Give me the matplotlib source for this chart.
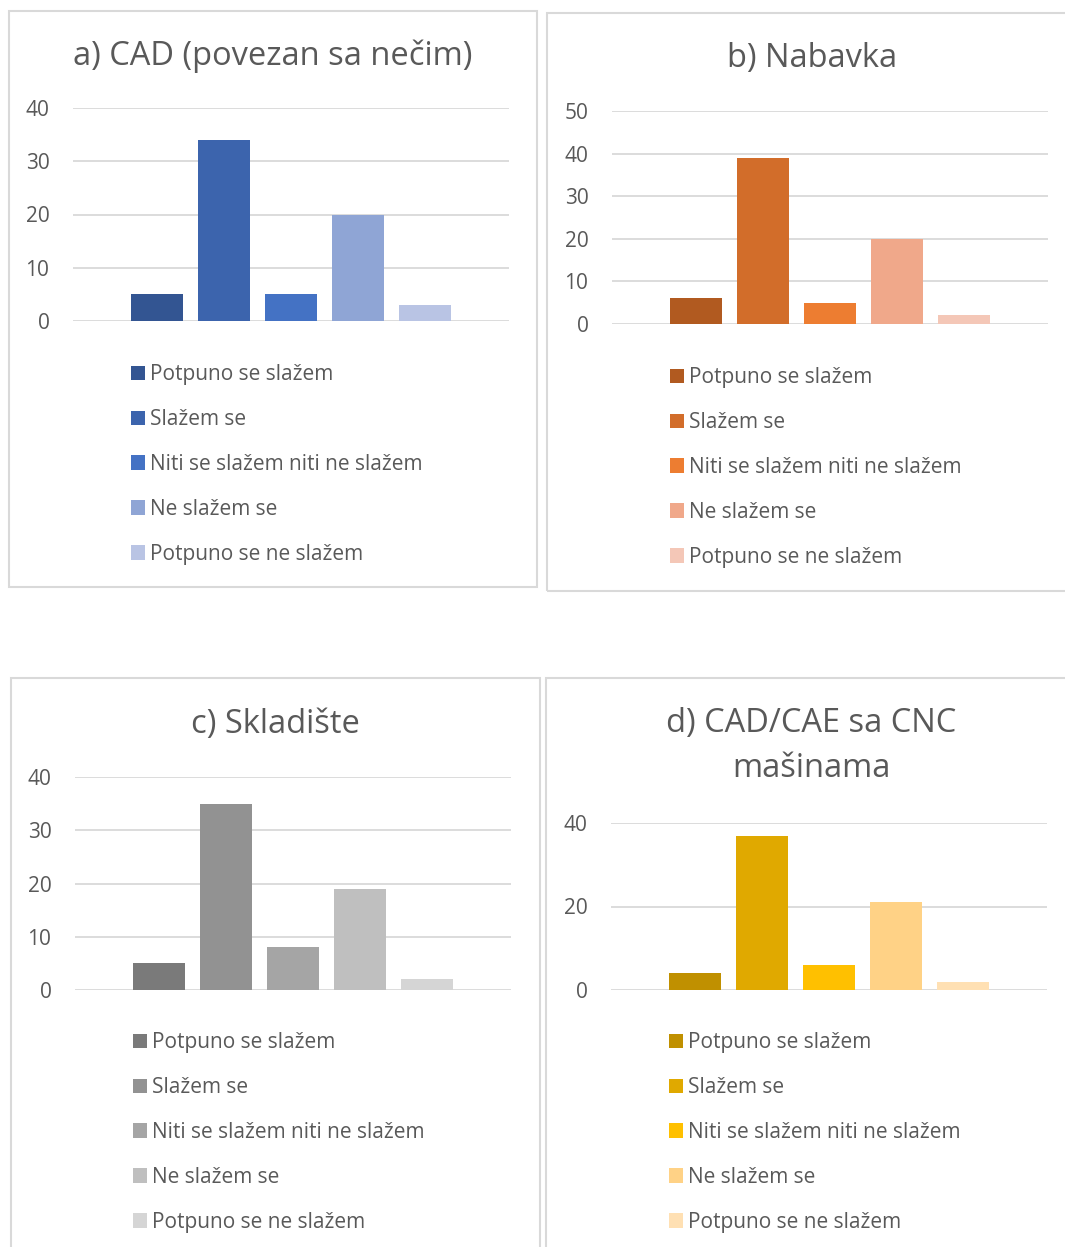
import matplotlib
matplotlib.use("Agg")
import matplotlib.pyplot as plt
from matplotlib.patches import Rectangle, Patch

W, H = 1065, 1247
DPI = 100

categories = ["Potpuno se slažem", "Slažem se", "Niti se slažem niti ne slažem",
              "Ne slažem se", "Potpuno se ne slažem"]

titles = ["a) CAD (povezan sa nečim)", "b) Nabavka", "c) Skladište",
          "d) CAD/CAE sa CNC\nmašinama"]

cad_vals = [5, 34, 5, 20, 3]
nabavka_vals = [6, 39, 5, 20, 2]
skladiste_vals = [5, 35, 8, 19, 2]
cnc_vals = [4, 37, 6, 21, 2]

blue_colors = ["#335592", "#3C64AD", "#4472C4", "#8FA5D5", "#B9C4E4"]
orange_colors = ["#B15A20", "#D26D2A", "#ED7D31", "#F0A88A", "#F4C7B7"]
gray_colors = ["#7A7A7A", "#929292", "#A5A5A5", "#BFBFBF", "#D5D5D5"]
gold_colors = ["#C09000", "#E0A900", "#FFC000", "#FFD286", "#FFE0B3"]

yticks_a = [0, 10, 20, 30, 40]
yticks_b = [0, 10, 20, 30, 40, 50]
yticks_c = [0, 10, 20, 30, 40]
yticks_d = [0, 20, 40]

TXT = "#595959"
GRID = "#D9D9D9"
plt.rcParams['font.family'] = ['Open Sans', 'DejaVu Sans']

fig = plt.figure(figsize=(W / DPI, H / DPI), dpi=DPI)


def fx(px):
    return px / W


def fy(py):
    return 1 - py / H


def add_box(x0, y0, x1, y1):
    fig.patches.append(Rectangle((fx(x0), fy(y1)), fx(x1) - fx(x0), fy(y0) - fy(y1),
                                 transform=fig.transFigure, fill=False,
                                 edgecolor=GRID, linewidth=1.5))


def panel(box, axpos, vals, colors, yticks, title, title_pos, leg_pos):
    add_box(*box)
    left, top, right, bottom = axpos
    ax = fig.add_axes([fx(left), fy(bottom), fx(right) - fx(left), fy(top) - fy(bottom)])
    for i, v in enumerate(vals):
        ax.bar(i, v, width=0.79, color=colors[i], zorder=2)
    ax.set_xlim(-1.254, 5.254)
    ax.set_ylim(yticks[0], yticks[-1])
    ax.set_yticks(yticks)
    ax.set_xticks([])
    for s in ax.spines.values():
        s.set_visible(False)
    ax.grid(True, axis='y', color=GRID, linewidth=1.3, zorder=0)
    ax.tick_params(axis='y', length=0, pad=17, labelsize=15, labelcolor=TXT)
    ax.patch.set_visible(False)

    fig.text(fx(title_pos[0]), fy(title_pos[1]), title, ha='center', va='center',
             fontsize=23.5, color=TXT, linespacing=1.5)

    # legend below the plot, one entry per answer
    handles = [Patch(facecolor=c, edgecolor='none') for c in colors]
    fig.legend(handles, categories, loc='upper left',
               bbox_to_anchor=(fx(leg_pos[0]), fy(leg_pos[1])),
               frameon=False, fontsize=15, labelcolor=TXT,
               handlelength=0.68, handleheight=0.68, handletextpad=0.25,
               labelspacing=1.15, borderpad=0, borderaxespad=0)
    return ax


panel((9, 11, 537, 587), (73, 108, 509, 321), cad_vals, blue_colors, yticks_a,
      titles[0], (273, 56), (131, 364))
panel((547, 13, 1078, 591), (612, 111, 1048, 324), nabavka_vals, orange_colors, yticks_b,
      titles[1], (812, 58), (670, 367))
panel((11, 678, 540, 1260), (75, 777, 511, 990), skladiste_vals, gray_colors, yticks_c,
      titles[2], (275, 724), (133, 1032))
panel((546, 678, 1078, 1260), (611, 823, 1047, 990), cnc_vals, gold_colors, yticks_d,
      titles[3], (811, 746), (669, 1032))

fig.savefig("out.png", dpi=DPI)
